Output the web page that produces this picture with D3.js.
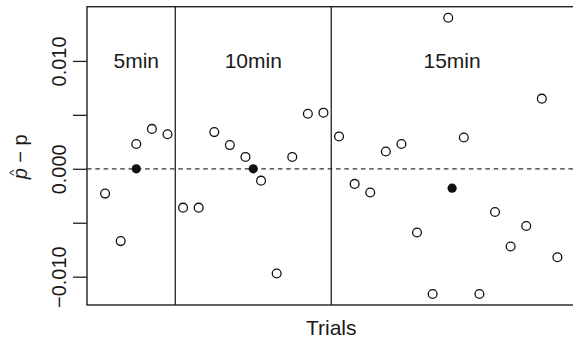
<!DOCTYPE html>
<html>
<head>
<meta charset="utf-8">
<script src="https://cdn.jsdelivr.net/npm/d3@7"></script>
<style>
  body { margin: 0; background: #fff; }
  text { font-family: "Liberation Sans", Arial, sans-serif; fill: #1a1a1a; }
</style>
</head>
<body>
<div id="chart"></div>
<script>
// group labels and sizes (trials are numbered 1..30 along x)
const groups = ['5min', '10min', '15min'];
const groupSizes = [5, 10, 15];

// p-hat minus p per trial
const values5 = [-0.0023, -0.0067, 0.0023, 0.0037, 0.0032];
const values10 = [-0.0036, -0.0036, 0.0034, 0.0022, 0.0011, -0.0011, -0.0097, 0.0011, 0.0051, 0.0052];
const values15 = [0.0030, -0.0014, -0.0022, 0.0016, 0.0023, -0.0059, -0.0116, 0.0140, 0.0029,
                  -0.0116, -0.0040, -0.0072, -0.0053, 0.0065, -0.0082];

// group means (filled dots) and where they sit on the trial axis
const meanPos = [3, 10.5, 23.25];
const meanVals = [0.0000, 0.0000, -0.0018];

const yTicks = [-0.010, -0.005, 0.000, 0.005, 0.010];
const yTickLabels = [-0.010, 0.000, 0.010];

const W = 573, H = 343;
const margin = {top: 6.7, right: -2.5, bottom: 38, left: 87};
const width = W - margin.left - margin.right;
const height = H - margin.top - margin.bottom;

const allVals = values5.concat(values10, values15);
const points = allVals.map((v, i) => ({trial: i + 1, value: v}));
const nTrials = allVals.length;

// R style 4% padding on both axes
const padX = 0.04 * (nTrials - 1);
const x = d3.scaleLinear()
    .domain([1 - padX, nTrials + padX])
    .range([0, width]);

const yExt = d3.extent(allVals);
const padY = 0.04 * (yExt[1] - yExt[0]);
const y = d3.scaleLinear()
    .domain([yExt[0] - padY, yExt[1] + padY])
    .range([height, 0]);

const svg = d3.select('#chart').append('svg')
    .attr('width', W)
    .attr('height', H);

svg.append('rect').attr('width', W).attr('height', H).attr('fill', '#fff');

const g = svg.append('g')
    .attr('transform', 'translate(' + margin.left + ',' + margin.top + ')');

// dashed zero line
g.append('line')
    .attr('x1', 0).attr('x2', width)
    .attr('y1', y(0)).attr('y2', y(0))
    .attr('stroke', '#333')
    .attr('stroke-width', 1.3)
    .attr('stroke-dasharray', '4.6,3.7');

// group dividers
let cum = 0;
const bounds = groupSizes.slice(0, -1).map(n => { cum += n; return cum + 0.5; });
g.selectAll('.divider').data(bounds).enter().append('line')
    .attr('class', 'divider')
    .attr('x1', d => x(d)).attr('x2', d => x(d))
    .attr('y1', 0).attr('y2', height)
    .attr('stroke', '#222')
    .attr('stroke-width', 1.3);

// group labels
g.selectAll('.glabel').data(groups).enter().append('text')
    .attr('class', 'glabel')
    .attr('x', (d, i) => x(meanPos[i]))
    .attr('y', y(0.010))
    .attr('dy', '0.36em')
    .attr('text-anchor', 'middle')
    .style('font-size', '21px')
    .text(d => d);

// trial points
g.selectAll('.pt').data(points).enter().append('circle')
    .attr('class', 'pt')
    .attr('cx', d => x(d.trial))
    .attr('cy', d => y(d.value))
    .attr('r', 4.4)
    .attr('fill', '#fff')
    .attr('stroke', '#111')
    .attr('stroke-width', 1.3);

// group means
g.selectAll('.mean').data(meanVals).enter().append('circle')
    .attr('class', 'mean')
    .attr('cx', (d, i) => x(meanPos[i]))
    .attr('cy', d => y(d))
    .attr('r', 4.6)
    .attr('fill', '#111');

// box
g.append('rect')
    .attr('width', width).attr('height', height)
    .attr('fill', 'none')
    .attr('stroke', '#222')
    .attr('stroke-width', 1.4);

// y axis
const axisY = g.append('g')
    .attr('class', 'axis y')
    .call(d3.axisLeft(y)
        .tickValues(yTicks)
        .tickSize(14)
        .tickFormat(d => yTickLabels.some(v => Math.abs(v - d) < 1e-9) ? d3.format('.3f')(d) : ''));

axisY.select('.domain').remove();
axisY.selectAll('.tick line').attr('stroke', '#222').attr('stroke-width', 1.3);
axisY.selectAll('.tick text')
    .attr('transform', 'rotate(-90)')
    .attr('x', 0)
    .attr('y', -21)
    .attr('dy', null)
    .attr('text-anchor', 'middle')
    .style('font-size', '20px')
    .style('font-family', '"Liberation Sans", Arial, sans-serif')
    .attr('fill', '#1a1a1a');

// x label
svg.append('text')
    .attr('x', margin.left + x((1 + nTrials) / 2))
    .attr('y', 335)
    .attr('text-anchor', 'middle')
    .style('font-size', '21px')
    .text('Trials');

// y label: p-hat minus p
const yl = svg.append('g')
    .attr('transform', 'translate(27,' + (margin.top + height / 2 + 1) + ') rotate(-90)');
const ylt = yl.append('text')
    .attr('text-anchor', 'middle')
    .style('font-size', '20px');
ylt.append('tspan').style('font-style', 'italic').text('p');
ylt.append('tspan').text(' \u2212 p');
const ext = ylt.node().getExtentOfChar(0);
yl.append('text')
    .attr('x', ext.x + ext.width / 2 + 1)
    .attr('y', -9)
    .attr('text-anchor', 'middle')
    .style('font-size', '13px')
    .text('^');
</script>
</body>
</html>
